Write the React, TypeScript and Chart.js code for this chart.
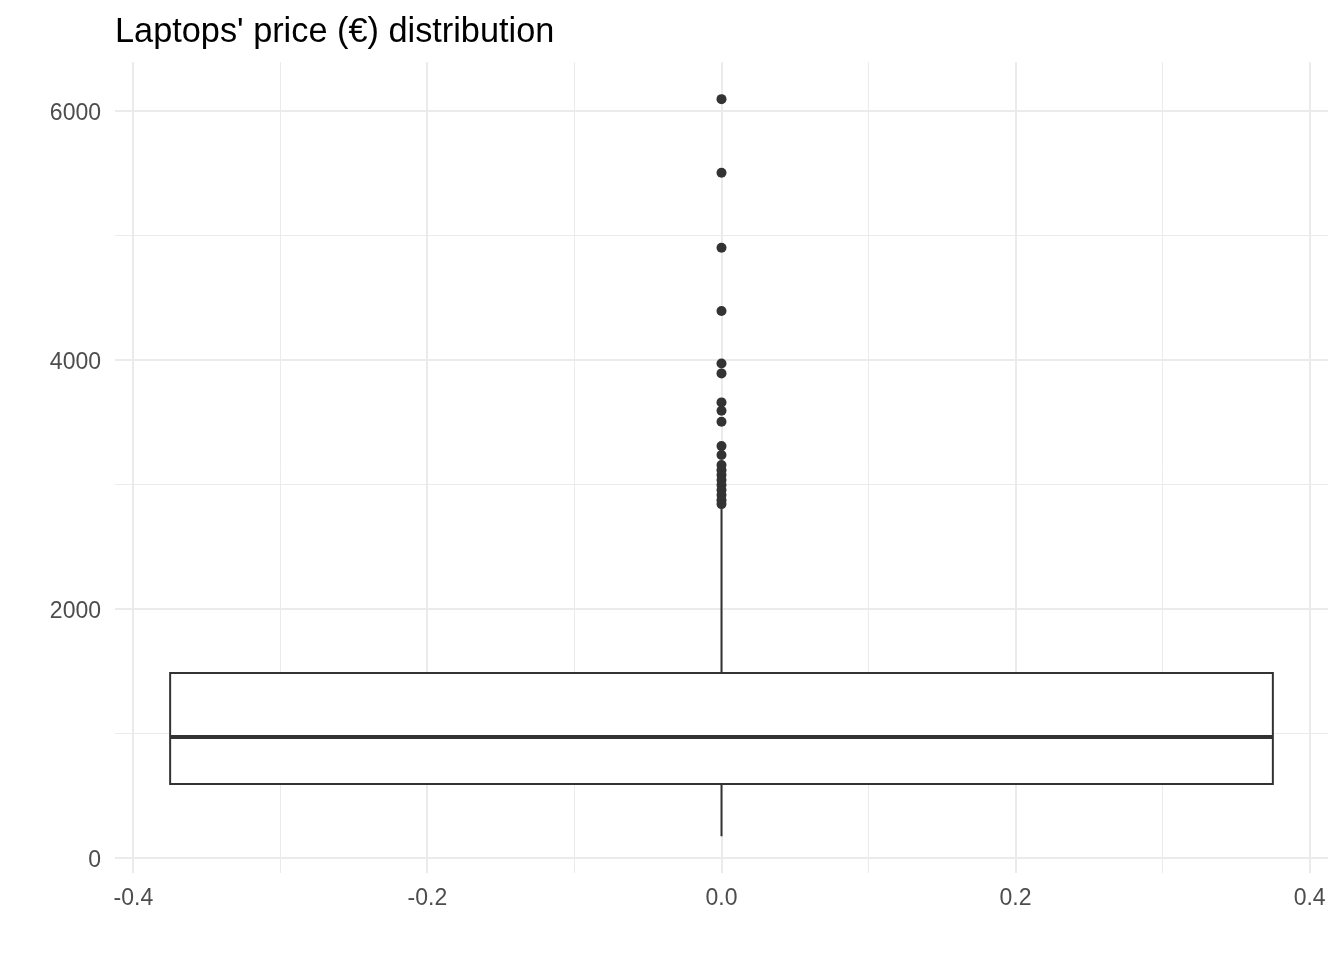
import React, { useEffect, useRef } from 'react';
import { Chart, registerables } from 'chart.js';

Chart.register(...registerables);

const chartTitle = "Laptops' price (€) distribution";

// Box-plot statistics (price in €)
const lowerWhisker = 175;
const firstQuartile = 594;
const median = 972;
const thirdQuartile = 1486;
const upperWhisker = 2810;
const outlierPrices = [
  6096, 5504, 4902, 4394, 3973, 3893, 3660, 3593, 3504, 3309,
  3237, 3157, 3116, 3076, 3036, 2996, 2956, 2916, 2875, 2843,
];

// Axis ticks
const xMajorTicks = [-0.4, -0.2, 0, 0.2, 0.4];
const xMinorTicks = [-0.3, -0.1, 0.1, 0.3];
const yMajorTicks = [0, 2000, 4000, 6000];
const yMinorTicks = [1000, 3000, 5000];

const BOX_HALF = 0.375;
const INK = '#333333';
const GRID = '#ebebeb';
const FONT = '"Liberation Sans", Arial, sans-serif';

const isMajor = (list: number[], v: number) => list.some((m) => Math.abs(m - v) < 1e-9);

export default function App() {
  const ref = useRef<HTMLCanvasElement | null>(null);

  useEffect(() => {
    if (!ref.current) return;
    const boxOutline = [
      { x: -BOX_HALF, y: firstQuartile },
      { x: BOX_HALF, y: firstQuartile },
      { x: BOX_HALF, y: thirdQuartile },
      { x: -BOX_HALF, y: thirdQuartile },
      { x: -BOX_HALF, y: firstQuartile },
    ];
    const chart = new Chart(ref.current, {
      type: 'line',
      data: {
        datasets: [
          {
            label: 'outliers',
            data: outlierPrices.map((p) => ({ x: 0, y: p })),
            showLine: false,
            pointRadius: 5,
            pointBackgroundColor: INK,
            pointBorderWidth: 0,
            order: 0,
          },
          {
            label: 'median',
            data: [
              { x: -BOX_HALF, y: median },
              { x: BOX_HALF, y: median },
            ],
            borderColor: INK,
            borderWidth: 4,
            pointRadius: 0,
            order: 1,
          },
          {
            label: 'upper whisker',
            data: [
              { x: 0, y: thirdQuartile },
              { x: 0, y: upperWhisker },
            ],
            borderColor: INK,
            borderWidth: 2,
            pointRadius: 0,
            order: 2,
          },
          {
            label: 'lower whisker',
            data: [
              { x: 0, y: firstQuartile },
              { x: 0, y: lowerWhisker },
            ],
            borderColor: INK,
            borderWidth: 2,
            pointRadius: 0,
            order: 2,
          },
          {
            label: 'box',
            data: boxOutline,
            borderColor: INK,
            borderWidth: 2,
            borderCapStyle: 'square',
            borderJoinStyle: 'miter',
            backgroundColor: '#ffffff',
            fill: 'shape',
            pointRadius: 0,
            order: 3,
          },
        ],
      },
      options: {
        responsive: false,
        animation: false,
        events: [],
        layout: { padding: { left: 0, right: 16, top: 0, bottom: 0 } },
        plugins: {
          legend: { display: false },
          tooltip: { enabled: false },
          title: {
            display: true,
            text: chartTitle,
            align: 'start',
            fullSize: false,
            color: '#000000',
            font: { family: FONT, size: 34.3, weight: 'normal', lineHeight: 1.2 },
            padding: { top: 12, bottom: 9 },
          },
        },
        scales: {
          x: {
            type: 'linear',
            min: -0.4125,
            max: 0.4125,
            afterBuildTicks: (scale: any) => {
              scale.ticks = [...xMajorTicks, ...xMinorTicks]
                .sort((a, b) => a - b)
                .map((v) => ({ value: v }));
            },
            afterFit: (scale: any) => {
              scale.height = 87;
            },
            border: { display: false },
            grid: {
              drawTicks: false,
              color: GRID,
              lineWidth: (ctx: any) => (ctx.tick && isMajor(xMajorTicks, ctx.tick.value) ? 2 : 1),
            },
            ticks: {
              autoSkip: false,
              maxRotation: 0,
              padding: 12,
              color: '#4d4d4d',
              font: { family: FONT, size: 23 },
              callback: (v: any) => (isMajor(xMajorTicks, Number(v)) ? Number(v).toFixed(1) : ''),
            },
          },
          y: {
            type: 'linear',
            min: -120,
            max: 6393,
            afterBuildTicks: (scale: any) => {
              scale.ticks = [...yMajorTicks, ...yMinorTicks]
                .sort((a, b) => a - b)
                .map((v) => ({ value: v }));
            },
            afterFit: (scale: any) => {
              scale.width = 115;
            },
            border: { display: false },
            grid: {
              drawTicks: false,
              color: GRID,
              lineWidth: (ctx: any) => (ctx.tick && isMajor(yMajorTicks, ctx.tick.value) ? 2 : 1),
            },
            ticks: {
              autoSkip: false,
              padding: 14,
              labelOffset: 3,
              color: '#4d4d4d',
              font: { family: FONT, size: 23 },
              callback: (v: any) => (isMajor(yMajorTicks, Number(v)) ? String(Number(v)) : ''),
            },
          },
        },
      },
    } as any);
    return () => chart.destroy();
  }, []);

  return (
    <div style={{ position: 'absolute', left: 0, top: 0, width: 1344, height: 960, background: '#ffffff' }}>
      <canvas ref={ref} width={1344} height={960} style={{ display: 'block' }} />
    </div>
  );
}
